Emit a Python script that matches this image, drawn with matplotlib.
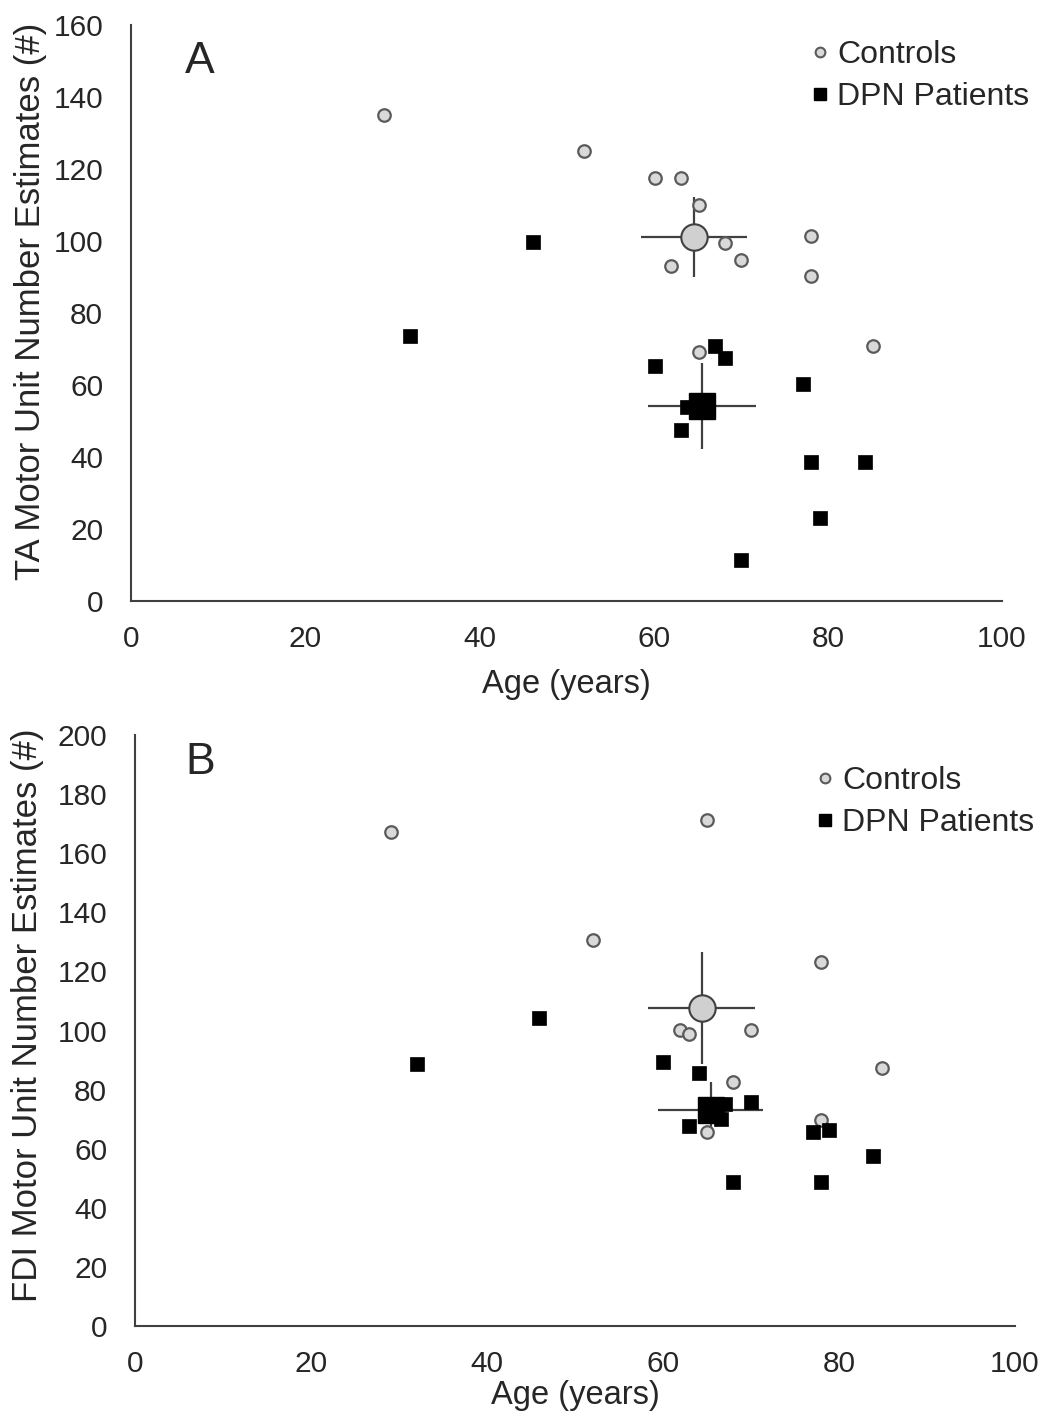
import matplotlib
matplotlib.use("Agg")
import matplotlib.pyplot as plt
from matplotlib.lines import Line2D

plt.rcParams['font.family'] = ['Liberation Sans', 'DejaVu Sans']

TEXT = '#262626'
SPINE = '#404040'

# Panel A: TA motor unit number estimates
ta_ctrl_age = [29, 52, 60.2, 63.1, 65.2, 68.2, 62, 70, 78.1, 78.1, 65.2, 85.2]
ta_ctrl_mune = [135, 125, 117.5, 117.5, 110, 99.4, 93, 94.7, 101.4, 90.3, 69.2, 70.8]
ta_dpn_age = [46.2, 32, 60.2, 67, 68.2, 77.2, 63.1, 63.8, 66, 78.1, 84.3, 79.1, 70]
ta_dpn_mune = [99.7, 73.6, 65.3, 70.8, 67.5, 60.3, 47.5, 53.9, 53, 38.6, 38.6, 23, 11.4]
ta_ctrl_mean = (64.6, 101.1)
ta_ctrl_err = (6.1, 11)
ta_dpn_mean = (65.6, 54.2)
ta_dpn_err = (6.2, 12)

# Panel B: FDI motor unit number estimates
fdi_ctrl_age = [29.1, 65, 52, 78, 61.9, 63, 70, 84.9, 68, 78, 65]
fdi_ctrl_mune = [167.2, 171.2, 130.6, 123.2, 100.2, 98.8, 100.2, 87.3, 82.6, 69.7, 65.6]
fdi_dpn_age = [32, 45.9, 60, 64.1, 70, 63, 66.6, 67, 77, 78.9, 83.9, 68, 78]
fdi_dpn_mune = [88.7, 104.2, 89.3, 85.6, 75.8, 67.7, 70, 75, 65.6, 66.3, 57.5, 48.7, 48.7]
fdi_ctrl_mean = (64.4, 107.6)
fdi_ctrl_err = (6.1, 19)
fdi_dpn_mean = (65.4, 73.1)
fdi_dpn_err = (6.0, 9.6)

xticks = [0, 20, 40, 60, 80, 100]
ta_yticks = list(range(0, 161, 20))
fdi_yticks = list(range(0, 201, 20))

fig = plt.figure(figsize=(10.47, 14.21), dpi=100)
axA = fig.add_axes([131 / 1047, 1 - 601 / 1421, 871 / 1047, 576 / 1421])
axB = fig.add_axes([135 / 1047, 1 - 1326 / 1421, 880 / 1047, 591 / 1421])


def draw_panel(ax, c_age, c_val, d_age, d_val, c_mean, c_err, d_mean, d_err):
    for m, e in [(c_mean, c_err), (d_mean, d_err)]:
        ax.errorbar(m[0], m[1], xerr=e[0], yerr=e[1], fmt='none',
                    ecolor=SPINE, elinewidth=1.6, capsize=0, zorder=2)
    ax.plot(c_age, c_val, 'o', ms=9, mfc='#d9d9d9', mec='#5a5a5a', mew=1.6,
            ls='none', zorder=3)
    ax.plot(d_age, d_val, 's', ms=10, mfc='black', mec='black', mew=0.5,
            ls='none', zorder=3)
    ax.plot(*c_mean, 'o', ms=19, mfc='#d0d0d0', mec='#404040', mew=1.5, zorder=4)
    ax.plot(*d_mean, 's', ms=19, mfc='black', mec='black', zorder=4)
    for s in ['top', 'right']:
        ax.spines[s].set_visible(False)
    for s in ['left', 'bottom']:
        ax.spines[s].set_color(SPINE)
        ax.spines[s].set_linewidth(1.5)
    ax.set_xlim(0, 100)
    ax.set_xticks(xticks)


draw_panel(axA, ta_ctrl_age, ta_ctrl_mune, ta_dpn_age, ta_dpn_mune,
           ta_ctrl_mean, ta_ctrl_err, ta_dpn_mean, ta_dpn_err)
draw_panel(axB, fdi_ctrl_age, fdi_ctrl_mune, fdi_dpn_age, fdi_dpn_mune,
           fdi_ctrl_mean, fdi_ctrl_err, fdi_dpn_mean, fdi_dpn_err)

axA.set_ylim(0, 160)
axA.set_yticks(ta_yticks)
axB.set_ylim(0, 200)
axB.set_yticks(fdi_yticks)

for ax in (axA, axB):
    ax.tick_params(axis='both', length=0, labelsize=21.5, colors=TEXT)
    ax.tick_params(axis='y', pad=20)
    ax.tick_params(axis='x', pad=17)

axA.set_xlabel('Age (years)', fontsize=23.5, color=TEXT, labelpad=12)
axB.set_xlabel('Age (years)', fontsize=23.5, color=TEXT, labelpad=2)
axA.set_ylabel('TA Motor Unit Number Estimates (#)', fontsize=25, color=TEXT)
axB.set_ylabel('FDI Motor Unit Number Estimates (#)', fontsize=25, color=TEXT)
axA.yaxis.set_label_coords(-0.097, 0.52)
axB.yaxis.set_label_coords(-0.103, 0.525)

axA.text(0.079, 0.936, 'A', transform=axA.transAxes, fontsize=32,
         color=TEXT, ha='center', va='center')
axB.text(0.074, 0.954, 'B', transform=axB.transAxes, fontsize=32,
         color=TEXT, ha='center', va='center')

handles = [
    Line2D([], [], marker='o', ls='none', ms=7, mfc='#d9d9d9', mec='#5a5a5a', mew=1.5),
    Line2D([], [], marker='s', ls='none', ms=8.5, mfc='black', mec='black'),
]
labels = ['Controls', 'DPN Patients']
for top, left in [(40, 810), (766, 815)]:
    fig.legend(handles, labels, loc='upper left',
               bbox_to_anchor=(left / 1047, 1 - top / 1421),
               frameon=False, fontsize=23, labelcolor=TEXT, borderpad=0,
               borderaxespad=0, handlelength=0.6, handletextpad=0.25,
               labelspacing=0.38)

fig.savefig('out.png', dpi=100)
